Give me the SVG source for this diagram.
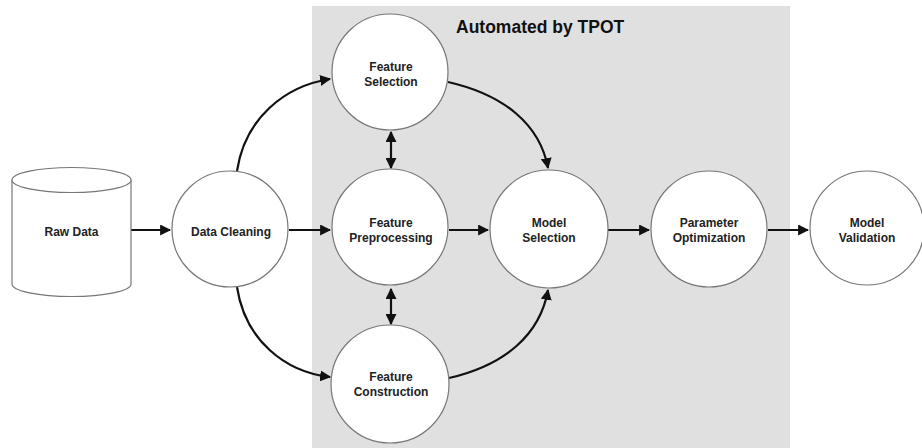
<svg xmlns="http://www.w3.org/2000/svg" width="922" height="448" viewBox="0 0 922 448">
<defs>
<style>
.node{fill:#fff;stroke:#777;stroke-width:1.2}
.lbl{font-family:"Liberation Sans",Arial,sans-serif;font-weight:bold;font-size:12px;fill:#222;text-anchor:middle}
.edge{fill:none;stroke:#111;stroke-width:2.2}
.title{font-family:"Liberation Sans",Arial,sans-serif;font-weight:bold;font-size:17.5px;fill:#111}
</style>
<marker id="ah" viewBox="0 0 10 10" refX="9" refY="5" markerWidth="5" markerHeight="5" orient="auto-start-reverse" markerUnits="strokeWidth">
<path d="M0,0 L10,5 L0,10 z" fill="#111"/>
</marker>
</defs>
<rect x="0" y="0" width="922" height="448" fill="#fff"/>
<rect id="tpot-panel" x="312" y="6" width="478" height="442" fill="#e0e0e0"/>
<text class="title" x="456" y="33">Automated by TPOT</text>

<g id="connectors">
<line class="edge" x1="131" y1="230" x2="170" y2="230" marker-end="url(#ah)"/>
<line class="edge" x1="289" y1="230" x2="330" y2="230" marker-end="url(#ah)"/>
<line class="edge" x1="449" y1="230" x2="488" y2="230" marker-end="url(#ah)"/>
<line class="edge" x1="608" y1="230" x2="649" y2="230" marker-end="url(#ah)"/>
<line class="edge" x1="768" y1="230" x2="808" y2="230" marker-end="url(#ah)"/>
<path class="edge" d="M237,171 C245,118 285,86 330,79" marker-end="url(#ah)"/>
<path class="edge" d="M237,287 C245,340 285,372 330,377" marker-end="url(#ah)"/>
<path class="edge" d="M448,82 C505,95 540,125 548,168" marker-end="url(#ah)"/>
<path class="edge" d="M449,378 C505,365 540,335 548,290" marker-end="url(#ah)"/>
<line class="edge" x1="391" y1="132" x2="391" y2="168" marker-start="url(#ah)" marker-end="url(#ah)"/>
<line class="edge" x1="391" y1="289" x2="391" y2="324" marker-start="url(#ah)" marker-end="url(#ah)"/>
</g>

<g id="raw-data">
<path class="node" d="M12,180 L12,284 A59.5,12.5 0 0 0 131,284 L131,180"/>
<ellipse class="node" cx="71.5" cy="180" rx="59.5" ry="12.5"/>
<text class="lbl" x="71.5" y="236">Raw Data</text>
</g>
<g id="data-cleaning">
<circle class="node" cx="230" cy="229" r="58"/>
<text class="lbl" x="231" y="236">Data Cleaning</text>
</g>
<g id="feature-selection">
<circle class="node" cx="390" cy="72" r="58"/>
<text class="lbl" x="391" y="71">Feature</text>
<text class="lbl" x="391" y="86">Selection</text>
</g>
<g id="feature-preprocessing">
<circle class="node" cx="390" cy="227" r="58"/>
<text class="lbl" x="391" y="227">Feature</text>
<text class="lbl" x="391" y="242">Preprocessing</text>
</g>
<g id="feature-construction">
<circle class="node" cx="390" cy="384" r="59"/>
<text class="lbl" x="391" y="381">Feature</text>
<text class="lbl" x="391" y="396">Construction</text>
</g>
<g id="model-selection">
<circle class="node" cx="549" cy="229" r="59"/>
<text class="lbl" x="549" y="227">Model</text>
<text class="lbl" x="549" y="242">Selection</text>
</g>
<g id="parameter-optimization">
<circle class="node" cx="709" cy="229" r="58"/>
<text class="lbl" x="709" y="227">Parameter</text>
<text class="lbl" x="709" y="242">Optimization</text>
</g>
<g id="model-validation">
<circle class="node" cx="867" cy="228" r="57"/>
<text class="lbl" x="867" y="227">Model</text>
<text class="lbl" x="867" y="242">Validation</text>
</g>
</svg>
